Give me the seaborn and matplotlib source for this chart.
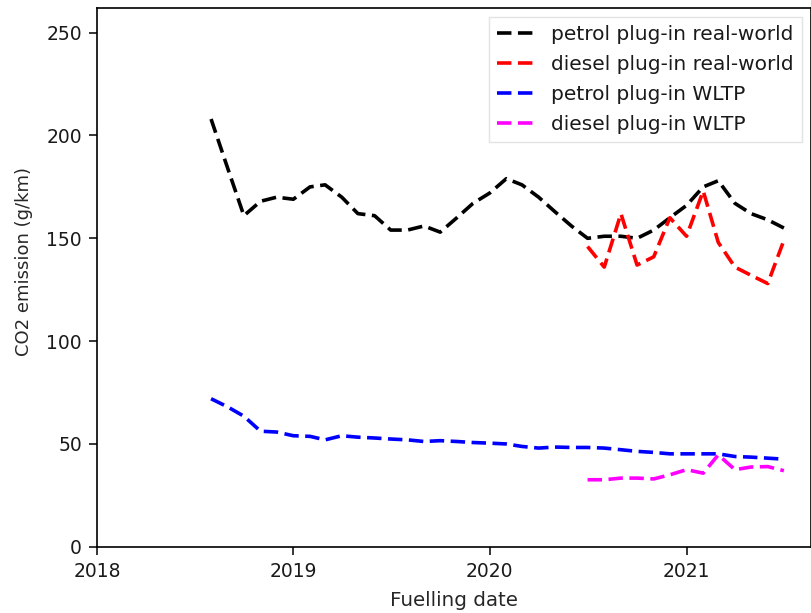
import pandas as pd
import matplotlib
matplotlib.use('Agg')
import matplotlib.pyplot as plt
import matplotlib.dates as mdates
import seaborn as sns

# monthly fuelling dates
petrol_months = pd.date_range('2018-08-01', '2021-07-01', freq='MS')
diesel_months = pd.date_range('2020-07-01', '2021-07-01', freq='MS')

# CO2 emission (g/km)
petrol_real = [208, 184, 161, 168, 170, 169, 175, 176, 170, 162, 161, 154,
               154, 156, 153, 160, 167, 172, 179, 176, 170, 163, 156, 150,
               151, 151, 150, 154, 160, 166, 175, 178, 167, 162, 159, 155]
diesel_real = [146, 136, 162, 137, 141, 160, 151, 173, 148, 136, 132, 128, 149]
petrol_wltp = [72, 68, 63.5, 56.2, 55.8, 54, 53.7, 52, 54, 53.3, 52.9, 52.4,
               52, 51.2, 51.6, 51.2, 50.7, 50.4, 50, 48.8, 48, 48.5, 48.3, 48.3,
               48, 47.2, 46.4, 45.9, 45.2, 45.2, 45.2, 45.2, 43.9, 43.6, 43.1, 42.6]
diesel_wltp = [32.6, 32.6, 33.4, 33.4, 33, 35, 37.5, 35.8, 44.7, 37.5, 38.8, 39, 37]

series = [
    (petrol_months, petrol_real, 'black', 'petrol plug-in real-world'),
    (diesel_months, diesel_real, 'red', 'diesel plug-in real-world'),
    (petrol_months, petrol_wltp, 'blue', 'petrol plug-in WLTP'),
    (diesel_months, diesel_wltp, 'magenta', 'diesel plug-in WLTP'),
]

sns.set_style('ticks')
plt.rcParams['font.family'] = ['DejaVu Sans']
plt.rcParams['text.color'] = '#1a1a1a'

fig = plt.figure(figsize=(8.12, 6.13), dpi=100)
ax = fig.add_axes([0.1195, 0.108, 0.879, 0.879])

for dates, values, color, label in series:
    sns.lineplot(x=dates, y=values, ax=ax, color=color,
                 linestyle=(0, (4, 1.8)), linewidth=2.6, label=label)

ax.set_xlim(pd.Timestamp('2018-01-01'), pd.Timestamp('2021-08-20'))
ax.set_ylim(0, 262)
ax.set_yticks([0, 50, 100, 150, 200, 250])
ax.xaxis.set_major_locator(mdates.YearLocator())
ax.xaxis.set_major_formatter(mdates.DateFormatter('%Y'))
ax.set_xlabel('Fuelling date', fontsize=14.3, labelpad=7)
ax.set_ylabel('CO2 emission (g/km)', fontsize=13)
ax.yaxis.set_label_coords(-0.09, 0.53)
ax.tick_params(labelsize=13.5, length=5.8, width=1.1, pad=5, color='black',
               labelcolor='#1a1a1a')
for spine in ax.spines.values():
    spine.set_color('black')
    spine.set_linewidth(1.2)

ax.legend(loc='upper right', fontsize=14.5, frameon=True, fancybox=False,
          edgecolor='#dddddd', handlelength=1.9, labelspacing=0.55,
          borderaxespad=0.45)

fig.savefig('out.png', dpi=100)
